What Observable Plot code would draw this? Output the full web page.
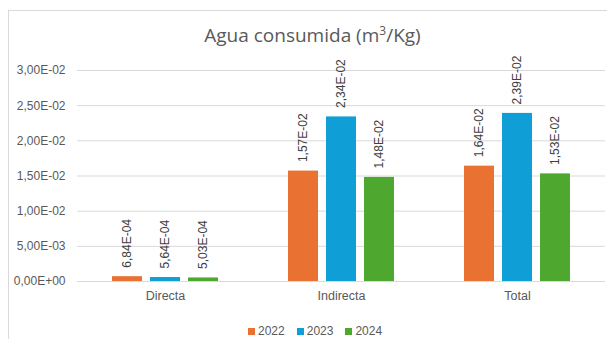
<!DOCTYPE html>
<html><head><meta charset="utf-8">
<script src="https://cdn.jsdelivr.net/npm/d3@7"></script>
<script src="https://cdn.jsdelivr.net/npm/@observablehq/plot@0.6"></script>
<style>
body{margin:0;background:#fff;font-family:"Liberation Sans",Arial,sans-serif;}
#wrap{position:relative;width:607px;height:339px;overflow:hidden;}
#frame{position:absolute;left:8px;top:10px;width:620px;height:360px;border-left:1px solid #d9d9d9;border-top:1px solid #d9d9d9;}
#title{position:absolute;left:9px;width:607px;top:22px;line-height:26px;text-align:center;font-family:"Open Sans",sans-serif;font-size:19px;color:#595959;}
#legend{position:absolute;left:248px;top:325px;display:flex;gap:12px;font-size:12px;line-height:13px;color:#595959;}
#legend .it{display:flex;align-items:center;}
#legend .sw{display:inline-block;width:7px;height:7px;margin-right:3px;}
svg{position:absolute;left:0;top:0;}
</style></head>
<body><div id="wrap"><div id="frame"></div>
<div id="title">Agua consumida (m<sup style="font-size:12px;line-height:0">3</sup>/Kg)</div>
<div id="chart"></div>
<div id="legend"></div>
</div>
<script>
const categories = ["Directa", "Indirecta", "Total"];
const years = ["2022", "2023", "2024"];
const v2022 = [6.84e-4, 1.57e-2, 1.64e-2];
const v2023 = [5.64e-4, 2.34e-2, 2.39e-2];
const v2024 = [5.03e-4, 1.48e-2, 1.53e-2];
const yTicks = [0, 0.005, 0.01, 0.015, 0.02, 0.025, 0.03];
const colors = ["#E97132", "#0F9ED5", "#4EA72E"];

const series = [v2022, v2023, v2024];
const data = [];
categories.forEach((c, i) => years.forEach((y, j) => data.push({cat: c, year: y, value: series[j][i]})));
const fmt = d => d.toExponential(2).replace(".", ",").replace(/e([+-])(\d)$/, "E$10$2").replace("e", "E");

const chart = Plot.plot({
  width: 607, height: 339,
  marginLeft: 76, marginRight: 1, marginTop: 70, marginBottom: 58,
  style: {fontFamily: "Liberation Sans, Arial, sans-serif", color: "#595959", background: "transparent", overflow: "visible"},
  fx: {domain: categories, padding: 0, label: null},
  x: {domain: years, paddingInner: 0.2, paddingOuter: 0.865, axis: null},
  y: {domain: [0, 0.03], label: null},
  color: {domain: years, range: colors},
  marks: [
    Plot.gridY(yTicks, {stroke: "#d9d9d9", strokeOpacity: 1, strokeWidth: 1}),
    Plot.axisY(yTicks, {tickSize: 0, tickPadding: 12, tickFormat: fmt, fontSize: 12, fill: "#595959", label: null}),
    Plot.axisFx({anchor: "bottom", tickSize: 0, tickPadding: 10, fontSize: 12.5, fill: "#595959", label: null}),
    Plot.barY(data, {fx: "cat", x: "year", y: "value", fill: "year"}),
    Plot.text(data, {fx: "cat", x: "year", y: "value", text: d => fmt(d.value), rotate: -90, textAnchor: "start", dy: -9, fontSize: 12, fill: "#404040"})
  ]
});
document.getElementById("chart").appendChild(chart);
document.getElementById("legend").innerHTML = years.map((y, i) => `<span class="it"><span class="sw" style="background:${colors[i]}"></span>${y}</span>`).join("");
</script>
</body></html>
